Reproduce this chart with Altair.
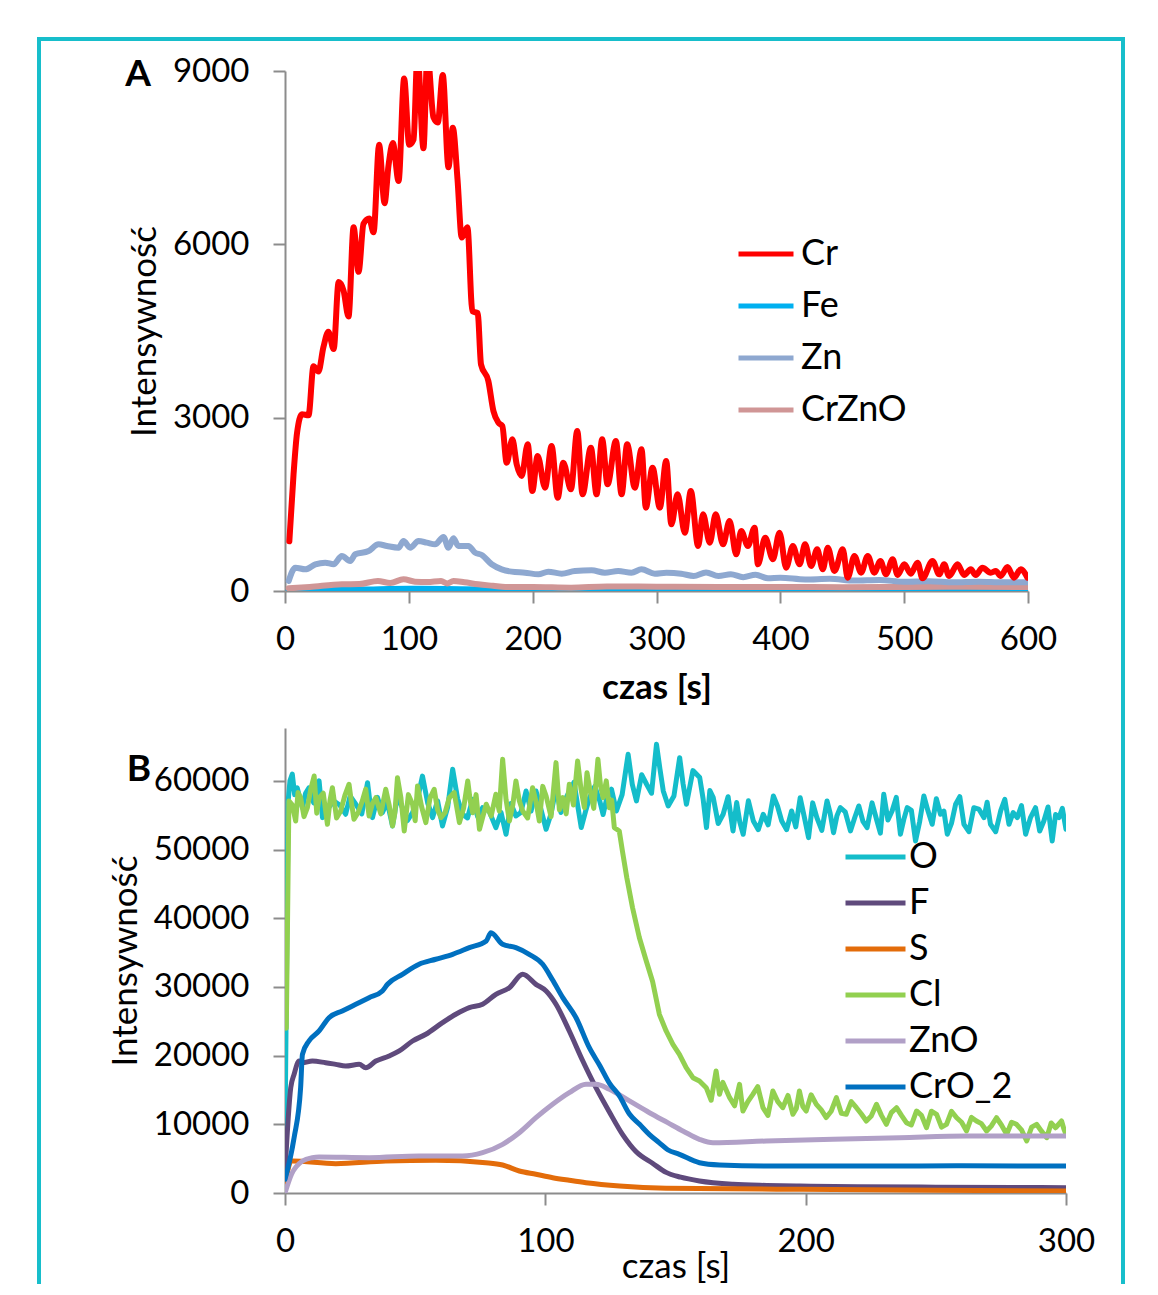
import altair as alt
import pandas as pd

FONT = "Lato"
FRAME = "#17BECB"
AXIS_GRAY = "#8C8C8C"

# ---------------- Panel A ----------------
A_series = ["Cr", "Fe", "Zn", "CrZnO"]
A_colors = ["#FF0000", "#00B0F0", "#8EA8D0", "#D09696"]
A_draw_order = ["Fe", "CrZnO", "Zn", "Cr"]
A_xticks = [0, 100, 200, 300, 400, 500, 600]
A_yticks = [0, 3000, 6000, 9000]

cr = [(3.5, 861), (6.9, 2020), (9.7, 2732), (13.7, 3059), (19, 3041), (23, 3890), (27, 3800),
      (31, 4217), (35, 4485), (39.3, 4188), (43.3, 5346), (47.3, 5197), (51.3, 4752), (55.4, 6296),
      (59.4, 5524), (63.4, 6356), (68, 6445), (71.5, 6207), (76, 7722), (80.4, 6712), (83.6, 7366),
      (87.1, 7752), (91.7, 7098), (96.2, 8870), (100.3, 7722), (103.8, 7811), (107, 9300),
      (111.8, 7663), (115, 9300), (119.9, 8197), (123.4, 8108), (127.4, 8930), (132, 7336),
      (135.5, 8019), (139.3, 7128), (142.7, 6118), (147.3, 6296), (151.3, 4841), (155.6, 4811),
      (158.3, 3920), (164.2, 3635), (168.3, 3116), (172.3, 2914), (175.5, 2856), (179, 2221),
      (183.6, 2625), (187.1, 2192), (191.1, 1991), (196, 2539), (199.7, 1731), (204, 2337),
      (210, 1788), (215.3, 2510), (220.2, 1615), (224.7, 2221), (230.9, 1760), (236, 2770),
      (240.3, 1673), (247, 2481), (251.6, 1673), (256.1, 2625), (260.5, 1846), (267.2, 2597),
      (271.8, 1673), (276.3, 2539), (282.5, 1788), (287.9, 2452), (291.4, 1442), (296.8, 2135),
      (302.7, 1442), (307.8, 2250), (312, 1154), (317, 1673), (322.9, 1010), (327.7, 1731),
      (333.6, 779), (337.6, 1327), (343, 837), (347.8, 1327), (353.7, 808), (359, 1212),
      (364.4, 635), (368.4, 1039), (373.8, 779), (379.2, 1096), (381.9, 462), (387.8, 923),
      (394, 549), (399.3, 1010), (404.7, 404), (410.1, 779), (415.5, 462), (420, 808),
      (424.9, 433), (429.7, 721), (434.3, 375), (438.3, 750), (443.7, 346), (450.4, 721),
      (454.4, 231), (459.8, 606), (465.2, 317), (470.6, 606), (475.9, 317), (480.8, 519),
      (485.3, 289), (490.7, 549), (494.7, 277), (500.1, 462), (505.4, 300), (510.8, 491),
      (514.8, 219), (522.9, 519), (528.3, 289), (532.3, 462), (536.3, 260), (543.1, 462),
      (548.4, 277), (553.8, 375), (557.8, 277), (563.2, 404), (569.9, 317), (574, 346),
      (578, 260), (583.4, 415), (588.7, 231), (594.1, 375), (599.5, 231)]

fe = [(3, 10), (30, 20), (60, 25), (100, 40), (130, 35), (160, 25), (200, 20), (250, 15),
      (300, 15), (350, 12), (400, 10), (450, 10), (500, 10), (550, 10), (600, 10)]

zn = [(3, 173), (8.4, 404), (16.4, 375), (24.5, 462), (32.5, 491), (39.2, 462), (45.9, 606),
      (52.7, 519), (56.7, 635), (67.5, 692), (75.5, 808), (82.3, 779), (91.7, 750), (95.7, 865),
      (101.1, 750), (107.8, 865), (114.5, 837), (121.2, 808), (128, 935), (132, 750), (136, 912),
      (140, 779), (148.1, 779), (153.5, 664), (158.9, 623), (166.9, 462), (175, 375), (183, 335),
      (193.8, 317), (204.6, 289), (212.6, 335), (223.4, 300), (234.1, 346), (247.6, 358),
      (258.3, 317), (269.1, 346), (279.8, 317), (287.9, 375), (298.7, 300), (308, 317),
      (320, 300), (330, 260), (340, 320), (350, 260), (360, 290), (370, 240), (380, 280),
      (390, 220), (400, 230), (420, 200), (440, 210), (460, 180), (480, 190), (500, 160),
      (520, 170), (540, 150), (560, 160), (580, 150), (600, 150)]

crzno = [(3, 46), (20, 70), (46, 116), (60, 120), (75, 173), (85, 140), (95.7, 202), (105, 162),
         (115, 155), (126, 173), (131, 130), (136, 173), (145, 150), (156, 116), (168, 90),
         (178, 69), (200, 70), (231, 58), (260, 80), (300, 75), (350, 70), (400, 70), (450, 65),
         (500, 70), (550, 75), (600, 70)]

# ---------------- Panel B ----------------
B_series = ["O", "F", "S", "Cl", "ZnO", "CrO_2"]
B_colors = ["#14BDCA", "#5F4A7C", "#E36C0A", "#92D050", "#B1A0C7", "#0070C0"]
B_xticks = [0, 100, 200, 300]
B_yticks = [0, 10000, 20000, 30000, 40000, 50000, 60000]

o_pts = [(0, 8000), (1.2, 57000), (2.8, 61000), (4.7, 59000), (6.7, 56100), (9.2, 59000),
         (13.1, 60000), (14.4, 54650), (18.8, 57080), (23.3, 55140), (27.2, 56600), (31.7, 59740),
         (33.6, 54650), (37.4, 55370), (41.3, 53440), (45.1, 56100), (49, 55370), (52.8, 60700),
         (56.7, 54650), (60.5, 53440), (64.4, 61690), (68.2, 55140), (72.1, 57320), (75.9, 56100),
         (81, 53200), (84.9, 52230), (88.7, 54890), (92.6, 58530), (96.4, 58530), (100.3, 52950),
         (104.1, 59010), (108, 57560), (113.8, 53200), (117, 57560), (120.9, 57080), (123.5, 57320),
         (127.3, 55620), (131.8, 63870), (135, 57080), (138.9, 59510), (142.7, 65330), (145.3, 58530),
         (147.2, 56350), (151.6, 63380), (154.2, 56600), (159.3, 60480), (161.9, 53200),
         (164.5, 57560), (168.3, 55140), (172.1, 52710), (173.5, 56840), (176, 52230),
         (179.9, 54160), (183.7, 55140), (187.6, 57800), (190.8, 54160), (194.6, 55620),
         (197.9, 57560), (201.1, 51740), (204.3, 54650), (208.2, 57080), (210.7, 52460),
         (213.3, 56100), (217.2, 52710), (220.4, 56350), (223.6, 53200), (227.4, 54160),
         (230, 58050), (233.2, 55620), (236.4, 52230), (239, 56100), (242.2, 51250),
         (245.4, 57800), (248.6, 53680), (251.8, 55140), (254.4, 52230), (257.6, 56600),
         (260.8, 53680), (264.6, 56100), (268.5, 54650), (271, 53680), (274.9, 55620),
         (278.1, 53680), (281.3, 54650), (284.5, 52230), (288.3, 56100), (291.5, 54160),
         (294.7, 51250), (297.3, 54650), (300, 52950)]
o_more = [(1.9, 60000), (3.7, 58000), (5.7, 57500), (7.9, 58200), (11, 56800), (12.2, 58600),
          (16.5, 56000), (21, 56500), (25, 57800), (29.5, 55200), (32.6, 57000), (35.5, 57600),
          (39.3, 56900), (43.2, 57800), (47, 54200), (51, 57500), (54.8, 56800), (58.6, 57100),
          (62.5, 56200), (66.3, 57400), (70.1, 54600), (74, 54800), (78.4, 55600), (83, 55400),
          (86.8, 56700), (90.6, 55400), (94.5, 55600), (98.3, 55900), (102.2, 55200), (106, 55400),
          (111, 59800), (115.4, 55500), (119, 59200), (122.2, 55100), (125.4, 58800), (129.5, 58000),
          (133.4, 59500), (137, 60900), (140.8, 58200), (144, 61800), (149.4, 57800), (152.9, 59600),
          (156.7, 61500), (160.6, 57400), (163.2, 58600), (166.4, 53800), (170.2, 57700),
          (174.7, 54000), (178, 57100), (181.8, 52900), (185.6, 53600), (189.2, 56300),
          (192.7, 52900), (196.2, 53300), (199.5, 54700), (202.7, 56800), (206.2, 52800),
          (209.4, 55300), (212, 54900), (215.2, 55500), (218.8, 54600), (222, 54100),
          (225.5, 56800), (228.7, 52400), (231.6, 54300), (234.8, 57600), (237.7, 54400),
          (240.6, 55700), (243.8, 54100), (247, 55600), (250.2, 57400), (253.1, 55600),
          (256, 53800), (259.2, 57700), (262.7, 52600), (266.5, 55900), (269.7, 56900),
          (273, 52600), (276.5, 57300), (279.7, 55400), (282.9, 56400), (286.4, 54700),
          (289.9, 52700), (293.1, 56200), (296, 55100), (298.6, 56000)]

f_pts = [(0, 3000), (2.2, 15330), (3.5, 17280), (5.4, 19220), (6.7, 18970), (10.5, 19220),
         (15.6, 18970), (19.5, 18730), (23.3, 18490), (28.5, 18730), (31, 18240), (34.9, 19220),
         (40, 19950), (43.9, 20680), (49, 22130), (54.1, 23110), (60.5, 24800), (65.6, 26020),
         (70.8, 26990), (75.9, 27480), (81, 28930), (86.2, 29890), (91.3, 31840), (96.4, 30380),
         (100.3, 29410), (104.1, 27480), (109.2, 23590), (114.4, 19220), (119.5, 15300),
         (124.6, 11800), (129.7, 8500), (134.9, 6000), (141.3, 4300), (146.4, 3000), (152, 2300),
         (159.2, 1750), (172.1, 1270), (185, 1100), (197.8, 1020), (220, 900), (250, 850),
         (280, 800), (300, 780)]

s_pts = [(0, 1500), (2.8, 4660), (19.5, 4270), (38.7, 4660), (57.9, 4760), (77.1, 4410),
         (83.6, 4080), (90, 3200), (96.4, 2720), (102.8, 2230), (109.2, 1850), (115.6, 1500),
         (128.5, 1020), (146.4, 700), (197.8, 540), (250, 400), (300, 290)]

cl_pts = [(0.5, 24000), (1.5, 57080), (4.1, 54160), (6, 57560), (8.6, 56100), (11.2, 60710),
          (13.1, 57560), (16.3, 53680), (18.2, 59010), (21.4, 55620), (24.6, 59510), (26.5, 54410),
          (29.7, 57080), (32.3, 54890), (34.9, 57560), (38.7, 58780), (41.3, 53440), (43.2, 60470),
          (45.8, 52710), (49, 56600), (50.9, 59260), (54.1, 53920), (57.3, 58780), (59.9, 54650),
          (63.1, 57560), (67, 53920), (70.2, 59990), (72.1, 55370), (74.7, 52950), (77.3, 56600),
          (81, 58050), (83.6, 63140), (86.2, 54160), (88.7, 59990), (91.3, 55620), (95.1, 59010),
          (97.7, 54160), (100.3, 57800), (104.1, 62660), (106.7, 57560), (109.2, 59510),
          (112.4, 62900), (115, 56100), (117, 59010), (120.2, 63140), (122.2, 57560),
          (124.6, 56100), (126.5, 53200), (128.4, 52710), (129.6, 49800), (131.3, 45900),
          (133.5, 41540), (136.1, 37200), (138.6, 34000), (141.2, 30800), (143.8, 26010),
          (146.4, 23590), (149, 21650), (151.5, 20190), (154.1, 18240), (156.7, 16790),
          (159.2, 16310), (161.8, 15330), (165.6, 17760), (166.9, 14370), (170.8, 13880),
          (174.6, 15820), (175.9, 11940), (179.7, 14370), (183.6, 12420), (187.4, 14850),
          (191.2, 12420), (195.1, 11460), (197.6, 14850), (200.2, 11940), (204.1, 12910),
          (207.9, 10990), (211.8, 13880), (215.6, 11460), (219.5, 12420), (223.3, 10480),
          (227.2, 12910), (231, 10000), (234.9, 12420), (238.7, 10240), (242.6, 11940),
          (246.4, 9510), (250.3, 11460), (254.1, 10000), (258, 10960), (261.8, 9030),
          (265.6, 10480), (269.5, 9030), (273.3, 10960), (277.2, 8550), (281, 10000),
          (284.9, 7570), (288.7, 10000), (292.6, 8050), (296, 9500), (298.3, 10480), (300, 8550)]
cl_more = [(2.8, 56500), (5, 58300), (7.3, 54800), (9.9, 58800), (12.2, 55300), (14.7, 58200),
           (17.3, 57200), (19.8, 54600), (23, 57900), (25.5, 56900), (28.1, 55400), (31, 58800),
           (33.6, 56700), (36.8, 55200), (40, 56500), (42.2, 55300), (44.5, 57600), (47.4, 58000),
           (50, 54200), (52.5, 56200), (55.7, 57500), (58.6, 55800), (61.5, 55400), (65, 58300),
           (68.6, 56000), (71.2, 57000), (73.4, 58000), (76, 54800), (79.2, 54900), (82.3, 55600),
           (84.9, 57300), (87.5, 56500), (90, 57100), (93.2, 54600), (96.4, 57000), (99, 59200),
           (102.2, 54800), (105.4, 55800), (108, 55200), (110.8, 56500), (113.7, 58800),
           (116, 61200), (118.6, 56000), (121.2, 59300), (123.4, 60000), (125.5, 57200),
           (163.7, 13500), (168.2, 16100), (172.7, 12700), (177.8, 13300), (181.6, 15500),
           (185.5, 11300), (189.3, 13300), (193.2, 14200), (196.4, 12300), (198.9, 12600),
           (202.1, 14300), (206, 12100), (209.8, 11900), (213.7, 11600), (217.5, 13300),
           (221.4, 11500), (225.2, 11200), (229.1, 11300), (232.9, 11700), (236.8, 11300),
           (240.6, 9900), (244.5, 11300), (248.3, 11900), (252.2, 9600), (256, 11900),
           (259.9, 10300), (263.7, 11000), (267.5, 10100), (271.4, 9800), (275.2, 9900),
           (279.1, 10300), (282.9, 9200), (286.8, 9600), (290.6, 9000), (294.3, 10200),
           (299.2, 9300)]

zno_pts = [(0, 0), (2.5, 2720), (6.7, 4660), (10.5, 5140), (13.1, 5240), (32.3, 5140),
           (51.5, 5390), (68.2, 5390), (75.9, 5870), (83.6, 7090), (90, 8780), (96.4, 10960),
           (102.8, 12910), (109.2, 14600), (115.6, 15830), (119.5, 15830), (124.6, 15100),
           (132.3, 13400), (140, 11690), (147, 10240), (153, 9000), (159.2, 7820), (164.4, 7320),
           (184.9, 7570), (210.5, 7820), (236.2, 8050), (261.8, 8300), (300, 8300)]

cro2_pts = [(0, 2000), (3.5, 8050), (6, 15330), (6.7, 20190), (9.2, 22130), (13.1, 23590),
            (16.9, 25520), (22, 26500), (27.2, 27480), (32.3, 28440), (37.4, 29410), (39.4, 30390),
            (45.1, 31840), (51.5, 33300), (57.9, 34030), (64.4, 34750), (70.8, 35720),
            (77.3, 36690), (79.1, 37900), (83.6, 36210), (88.7, 35720), (93.8, 34750), (99, 33300),
            (102.8, 31000), (106.7, 28440), (111.8, 25520), (116.9, 21150), (121, 18500),
            (124.6, 16000), (128.5, 14100), (132.3, 11500), (136.2, 10000), (140, 8500),
            (143.8, 7300), (147, 6300), (151.5, 5630), (159.2, 4410), (166.9, 4080), (185, 3930),
            (223, 3930), (260, 3950), (300, 3930)]

# ---------------- tables ----------------
A_data = {"Cr": cr, "Fe": fe, "Zn": zn, "CrZnO": crzno}
rowsA = []
for i, name in enumerate(A_draw_order):
    rowsA += [{"t": t, "v": v, "sA": name, "o": i} for t, v in A_data[name]]
dfA = pd.DataFrame(rowsA)

B_data = {"O": o_pts + o_more, "F": f_pts, "S": s_pts, "Cl": cl_pts + cl_more,
          "ZnO": zno_pts, "CrO_2": cro2_pts}
rowsB = []
for i, name in enumerate(B_series):
    rowsB += [{"t": t, "v": v, "sB": name, "o": i} for t, v in B_data[name]]
dfB = pd.DataFrame(rowsB).sort_values(["o", "t"])

one = alt.Data(values=[{"k": 1}])
frame = alt.Chart(one).mark_rule(color=FRAME, strokeWidth=4, strokeCap="square")

# ---------------- chart A ----------------
linesA = alt.Chart(dfA).mark_line(
    clip=True, interpolate="monotone", strokeWidth=6, strokeCap="round", strokeJoin="round"
).encode(
    x=alt.X("t:Q", scale=alt.Scale(domain=[0, 600], nice=False),
            axis=alt.Axis(values=A_xticks, title="czas [s]", titleFontWeight="bold",
                          titlePadding=14, labelPadding=20)),
    y=alt.Y("v:Q", scale=alt.Scale(domain=[0, 9000], nice=False),
            axis=alt.Axis(values=A_yticks, format="d", title="Intensywność",
                          titlePadding=10, labelPadding=24)),
    color=alt.Color("sA:N", scale=alt.Scale(domain=A_series, range=A_colors),
                    legend=alt.Legend(title=None, orient="none", legendX=451, legendY=163,
                                      symbolType="stroke", symbolSize=3025, symbolStrokeWidth=5,
                                      clipHeight=40, rowPadding=12, labelFontSize=36,
                                      labelOffset=5, labelFont=FONT, labelColor="black",
                                      padding=0)),
    order=alt.Order("o:Q"),
)

labA = alt.Chart(alt.Data(values=[{"lab": "A"}])).mark_text(
    font=FONT, fontSize=37, fontWeight="bold", align="center", baseline="alphabetic", color="black"
).encode(text="lab:N", x=alt.value(-147), y=alt.value(15))

chartA = alt.layer(
    linesA,
    frame.encode(x=alt.value(-246), x2=alt.value(838), y=alt.value(-32)),
    frame.encode(x=alt.value(-246), y=alt.value(-32), y2=alt.value(1211)),
    frame.encode(x=alt.value(838), y=alt.value(-32), y2=alt.value(1211)),
    labA,
).properties(width=743, height=520)

# ---------------- chart B ----------------
baseB = alt.Chart(dfB).encode(
    x=alt.X("t:Q", scale=alt.Scale(domain=[0, 300], nice=False),
            axis=alt.Axis(values=B_xticks, title="czas [s]", titleFontWeight="normal",
                          titlePadding=-9, labelPadding=20)),
    y=alt.Y("v:Q", scale=alt.Scale(domain=[0, 67700], nice=False),
            axis=alt.Axis(values=B_yticks, format="d", title="Intensywność",
                          titlePadding=10, labelPadding=24)),
    color=alt.Color("sB:N", scale=alt.Scale(domain=B_series, range=B_colors),
                    legend=alt.Legend(title=None, orient="none", legendX=558, legendY=111,
                                      symbolType="stroke", symbolSize=3600, symbolStrokeWidth=5,
                                      clipHeight=36, rowPadding=10, labelFontSize=36,
                                      labelOffset=1, labelFont=FONT, labelColor="black",
                                      padding=0)),
)


def b_layer(names, interp):
    return baseB.transform_filter(
        alt.FieldOneOfPredicate(field="sB", oneOf=names)
    ).mark_line(clip=True, interpolate=interp, strokeWidth=5, strokeCap="round",
                strokeJoin="round")


labB = alt.Chart(alt.Data(values=[{"lab": "B"}])).mark_text(
    font=FONT, fontSize=37, fontWeight="bold", align="center", baseline="alphabetic", color="black"
).encode(text="lab:N", x=alt.value(-146), y=alt.value(53))

chartB = alt.layer(
    b_layer(["O"], "linear"),
    b_layer(["F", "S"], "monotone"),
    b_layer(["Cl"], "linear"),
    b_layer(["ZnO", "CrO_2"], "monotone"),
    labB,
).properties(width=781, height=465)

chart = alt.vconcat(chartA, chartB, spacing=137, bounds="flush").resolve_scale(
    color="independent"
).properties(
    padding={"left": 28, "top": 28, "right": 2, "bottom": 0}
).configure(font=FONT).configure_view(stroke=None).configure_axis(
    grid=False, labelFlush=False,
    domainColor=AXIS_GRAY, domainWidth=2,
    tickColor=AXIS_GRAY, tickWidth=2, tickSize=12,
    labelFont=FONT, labelFontSize=33, labelColor="black",
    titleFont=FONT, titleFontSize=35, titleColor="black", titleFontWeight="normal",
)

chart.save("out.html", embed_options={"renderer": "svg", "actions": False})
